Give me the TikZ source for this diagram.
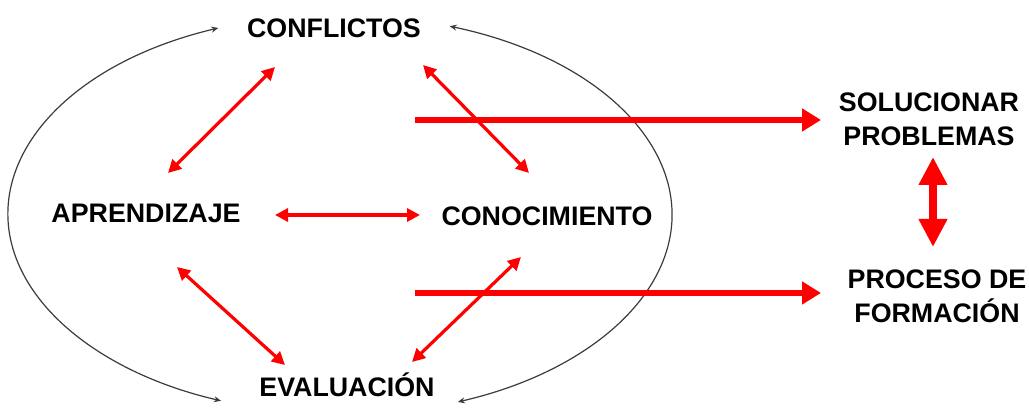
\documentclass[tikz,border=0pt]{standalone}
\usepackage{fontspec}
\setmainfont{Liberation Sans}
\usetikzlibrary{arrows.meta}
\definecolor{arrred}{RGB}{255,0,0}
\definecolor{arcgray}{RGB}{60,60,60}
\begin{document}
\begin{tikzpicture}[x=1pt,y=1pt,
  lbl/.style={font=\fontsize{26.8}{34}\selectfont\bfseries, inner sep=0pt, anchor=base, align=center},
  redthin/.style={draw=arrred, line width=3.2pt, {Triangle[length=13pt,width=13pt]}-{Triangle[length=13pt,width=13pt]}},
  redthick/.style={draw=arrred, line width=6.5pt, -{Triangle[length=19pt,width=22pt]}},
  redbig/.style={draw=arrred, line width=8pt, {Triangle[length=28pt,width=27pt]}-{Triangle[length=28pt,width=27pt]}},
  arcline/.style={draw=arcgray, line width=1.2pt, {Stealth[length=7pt,width=6pt]}-{Stealth[length=7pt,width=6pt]}}
]
\useasboundingbox (0,0) rectangle (1029,409);
\fill[white] (0,0) rectangle (1029,409);

% labels
\node[lbl] (conf) at (334,371) {CONFLICTOS};
\node[lbl] (apr) at (146,186) {APRENDIZAJE};
\node[lbl] (con) at (547,183) {CONOCIMIENTO};
\node[lbl] (eva) at (347,12) {EVALUACIÓN};
\node[lbl] (sol) at (929,263) {SOLUCIONAR\\PROBLEMAS};
\node[lbl] (pro) at (937,86) {PROCESO DE\\FORMACIÓN};

% arc ends
\coordinate (tl) at (218.3,381);
\coordinate (tr) at (449.7,382.8);
\draw[arcline] (tl) arc[start angle=111.5, end angle=249, x radius=332, y radius=200];
\draw[arcline] (tr) arc[start angle=70.7, end angle=-69.2, x radius=332, y radius=200];

% red thin connectors
\coordinate (ca1) at (275,342); \coordinate (ca2) at (168,236);
\coordinate (cc1) at (423,344); \coordinate (cc2) at (529,236);
\coordinate (ac1) at (275,194); \coordinate (ac2) at (420,194);
\coordinate (ae1) at (177,142); \coordinate (ae2) at (285,44);
\coordinate (ce1) at (521,152); \coordinate (ce2) at (412,47);
\draw[redthin] (ca1) -- (ca2);
\draw[redthin] (cc1) -- (cc2);
\draw[redthin] (ac1) -- (ac2);
\draw[redthin] (ae1) -- (ae2);
\draw[redthin] (ce1) -- (ce2);

% thick horizontal arrows
\coordinate (h1) at (415,289); \coordinate (h1e) at (821,289);
\coordinate (h2) at (415,116); \coordinate (h2e) at (821,116);
\draw[redthick] (h1) -- (h1e);
\draw[redthick] (h2) -- (h2e);

% vertical double arrow
\coordinate (v1) at (933,252); \coordinate (v2) at (933,162);
\draw[redbig] (v1) -- (v2);
\end{tikzpicture}
\end{document}
